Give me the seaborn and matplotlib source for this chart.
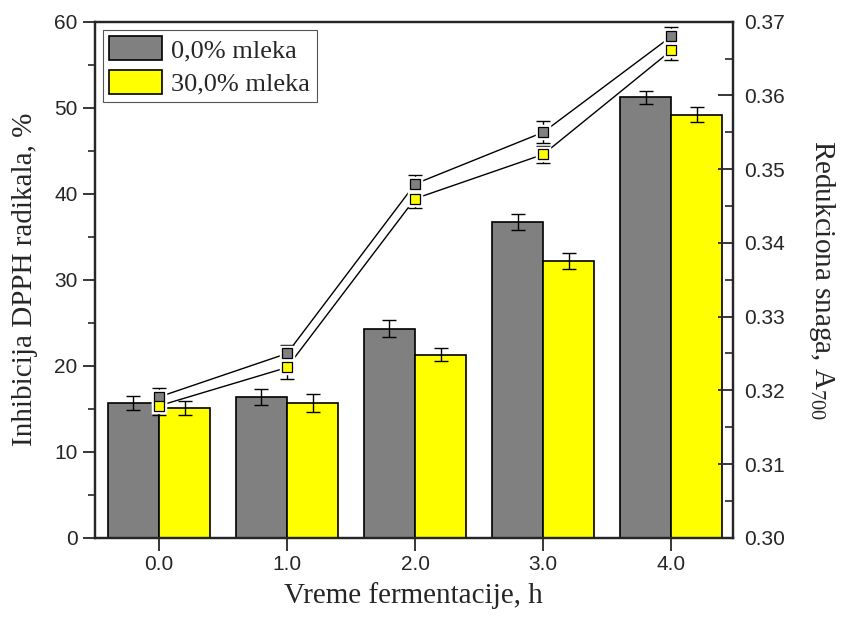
import matplotlib
matplotlib.use("Agg")
import matplotlib.pyplot as plt
import seaborn as sns
import pandas as pd
import numpy as np
from matplotlib.ticker import MultipleLocator

# data
times = ["0.0", "1.0", "2.0", "3.0", "4.0"]
groups = ["0,0% mleka", "30,0% mleka"]

dpph_0 = [15.7, 16.4, 24.3, 36.7, 51.2]
dpph_0_err = [0.8, 0.95, 1.0, 0.9, 0.75]
dpph_30 = [15.1, 15.7, 21.3, 32.2, 49.2]
dpph_30_err = [0.8, 1.05, 0.8, 0.95, 0.87]

a700_0 = [0.3191, 0.3250, 0.3480, 0.3550, 0.3680]
a700_0_err = [0.0012, 0.0011, 0.0012, 0.0015, 0.0013]
a700_30 = [0.3179, 0.3231, 0.3460, 0.3520, 0.3661]
a700_30_err = [0.0012, 0.0015, 0.0013, 0.0012, 0.0013]

colors = ["#808080", "#FFFF00"]

df = pd.DataFrame({
    "time": times * 2,
    "group": [groups[0]] * 5 + [groups[1]] * 5,
    "dpph": dpph_0 + dpph_30,
})

sns.set_style("ticks")
plt.rcParams["font.family"] = ["Liberation Sans", "DejaVu Sans"]
plt.rcParams["mathtext.fontset"] = "custom"
plt.rcParams["mathtext.rm"] = "Liberation Serif"
serif = ["Liberation Serif", "DejaVu Serif"]

fig = plt.figure(figsize=(8.63, 6.21), dpi=100)
ax = fig.add_axes([0.110, 0.134, 0.739, 0.831])

sns.barplot(data=df, x="time", y="dpph", hue="group", palette=colors,
            order=times, hue_order=groups, width=0.8, edgecolor="black",
            linewidth=1.2, errorbar=None, saturation=1, ax=ax, zorder=2)

x = np.arange(len(times))
ax.errorbar(x - 0.2, dpph_0, yerr=dpph_0_err, fmt="none", ecolor="black",
            elinewidth=1, capsize=5, capthick=1, zorder=3)
ax.errorbar(x + 0.2, dpph_30, yerr=dpph_30_err, fmt="none", ecolor="black",
            elinewidth=1, capsize=5, capthick=1, zorder=3)

ax.set_xlim(-0.5, 4.48)
ax.set_ylim(0, 60)
ax.yaxis.set_major_locator(MultipleLocator(10))
ax.yaxis.set_minor_locator(MultipleLocator(5))
ax.tick_params(axis="y", which="major", direction="out", length=9, width=1.3, labelsize=15)
ax.tick_params(axis="y", which="minor", direction="out", length=5, width=1.2)
ax.tick_params(axis="x", which="major", direction="out", length=9, width=1.3, labelsize=15)
ax.set_xlabel("Vreme fermentacije, h", family=serif, fontsize=21, labelpad=6)
ax.set_ylabel("Inhibicija DPPH radikala, %", family=serif, fontsize=21, labelpad=12)
for s in ax.spines.values():
    s.set_linewidth(1.6)

leg = ax.legend(loc="upper left", bbox_to_anchor=(0.0, 1.0), prop={"family": serif, "size": 19},
                handlelength=2.0, handleheight=1.0, handletextpad=0.35,
                borderpad=0.25, labelspacing=0.3, borderaxespad=0.3, fancybox=False,
                edgecolor="#555555", framealpha=1)
leg.get_frame().set_linewidth(0.8)

ax2 = ax.twinx()
for vals, errs, c in [(a700_0, a700_0_err, colors[0]), (a700_30, a700_30_err, colors[1])]:
    ax2.plot(x, vals, color="black", lw=1.0, zorder=3)
    ax2.errorbar(x, vals, yerr=errs, fmt="none", ecolor="black",
                 elinewidth=1, capsize=5, capthick=1, zorder=4)
    ax2.plot(x, vals, ls="none", marker="s", ms=8.5, mfc=c, mec="white",
             mew=2.5, zorder=5)
    ax2.plot(x, vals, ls="none", marker="s", ms=7.5, mfc=c, mec="black",
             mew=0.9, zorder=6)

ax2.set_ylim(0.30, 0.37)
ax2.yaxis.set_major_locator(MultipleLocator(0.01))
ax2.yaxis.set_minor_locator(MultipleLocator(0.005))
ax2.yaxis.set_major_formatter(matplotlib.ticker.FormatStrFormatter("%.2f"))
ax2.tick_params(axis="y", which="major", direction="in", length=11, width=1.3,
                labelsize=15, pad=8)
ax2.tick_params(axis="y", which="minor", direction="in", length=6, width=1.2)
ax2.set_ylabel(r"Redukciona snaga, A$_{700}$", family=serif, fontsize=21,
               rotation=270, labelpad=38)
for s in ax2.spines.values():
    s.set_linewidth(1.6)

fig.savefig("out.png", dpi=100)
